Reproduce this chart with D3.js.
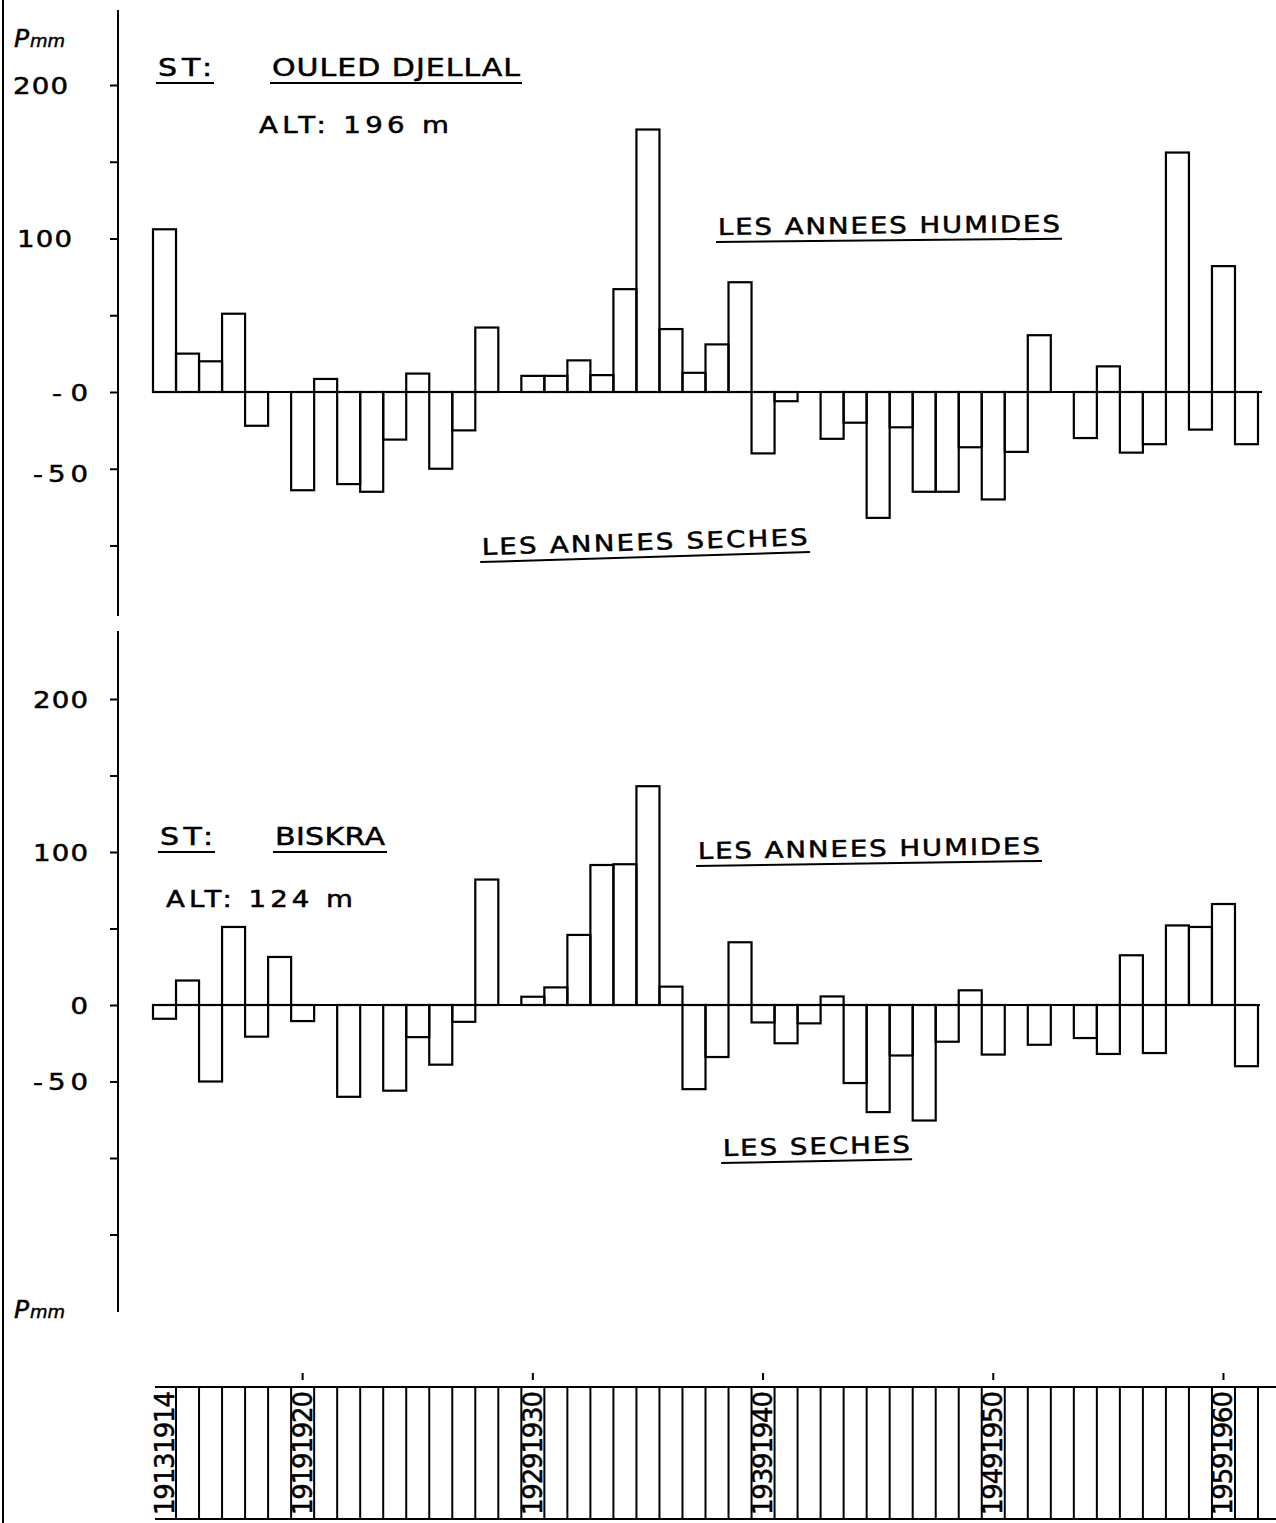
<!DOCTYPE html>
<html>
<head>
<meta charset="utf-8">
<script src="https://cdn.jsdelivr.net/npm/d3@7.9.0/dist/d3.min.js"></script>
<style>
  body { margin: 0; background: #fff; }
  svg { display: block; }
  text { font-family: "DejaVu Sans", sans-serif; fill: #000; stroke: #000; stroke-width: 0.5; }
</style>
</head>
<body>
<svg width="1276" height="1523"></svg>
<script>
// years on the x axis
const years = [1913, 1914, 1915, 1916, 1917, 1918, 1919, 1920, 1921, 1922,
  1923, 1924, 1925, 1926, 1927, 1928, 1929, 1930, 1931, 1932,
  1933, 1934, 1935, 1936, 1937, 1938, 1939, 1940, 1941, 1942,
  1943, 1944, 1945, 1946, 1947, 1948, 1949, 1950, 1951, 1952,
  1953, 1954, 1955, 1956, 1957, 1958, 1959, 1960];

// departure from the mean yearly rainfall (mm)
const djellal = [106, 25, 20, 51, -22, 0, -64, 8.5, -60, -65,
  -31, 12, -50, -25, 42, 0, 10.5, 10.5, 20.6, 11,
  67, 171, 41, 12.5, 31, 71.5, -40, -6, 0, -30.5,
  -20, -82, -23, -65, -65, -36, -70, -39, 37, 0,
  -30, 16.7, -39.5, -34, 156, -24.5, 82, -34];

const biskra = [-9, 16, -50, 51, -20.7, 31.4, -10.5, 0, -60, 0,
  -56, -21, -39, -11, 82, 0, 5.4, 11.5, 45.8, 91.5,
  92, 143, 12, -55, -34, 41, -11.4, -25, -12, 5.6,
  -51, -70, -33, -75.5, -24, 9.6, -32.4, 0, -26, 0,
  -21.6, -32, 32.5, -31.4, 52, 51, 66, -40];

// y axis ticks and labels
const topTicks = [200, 150, 100, 50, 0, -50, -100];
const topTickLabels = ['200', '', '100', '', '-0', '-50', ''];
const bottomTicks = [200, 150, 100, 50, 0, -50, -100, -150];
const bottomTickLabels = ['200', '', '100', '', '0', '-50', '', ''];

// year pairs written in the bottom strip
const stripYears = [1913, 1919, 1929, 1939, 1949, 1959];
const stripLabels = ['19131914', '19191920', '19291930', '19391940', '19491950', '19591960'];

const svg = d3.select('svg');
const WIDE = 1.2; // plotter lettering is wider than screen fonts

let x = d3.scaleBand().domain(years).range([153, 1258]).padding(0);

// frame line on the far left
svg.append('line')
  .attr('x1', 3).attr('x2', 3).attr('y1', 0).attr('y2', 1523)
  .attr('stroke', '#000').attr('stroke-width', 2);

function drawPanel(cfg) {
  let y = d3.scaleLinear().domain([0, 100]).range([cfg.zeroY, cfg.zeroY - cfg.px100]);
  let g = svg.append('g');

  // axis line + ticks
  g.append('line')
    .attr('x1', 118).attr('x2', 118)
    .attr('y1', cfg.axisTop).attr('y2', cfg.axisBottom)
    .attr('stroke', '#000').attr('stroke-width', 2);

  let axis = d3.axisLeft(y)
    .tickValues(cfg.ticks)
    .tickSizeInner(8).tickSizeOuter(0)
    .tickFormat((d, i) => cfg.labels[i]);
  let ax = g.append('g').attr('transform', 'translate(118,0)').call(axis);
  ax.select('.domain').remove();
  ax.selectAll('.tick line').attr('stroke', '#000').attr('stroke-width', 2);
  ax.selectAll('.tick text')
    .attr('font-family', '"DejaVu Sans", sans-serif')
    .attr('font-size', 23)
    .attr('text-anchor', 'end')
    .attr('fill', '#000')
    .attr('transform', `scale(${WIDE},1)`)
    .attr('x', (d) => (-30 - (cfg.shift[d] || 0)) / WIDE)
    .attr('dy', (d) => (cfg.drop[d] || 0) + 8)
    .each(function(d, i) {
      let s = cfg.labels[i];
      if (s.length > 1) {
        d3.select(this).attr('textLength', (s.length * 19 - 2) / WIDE).attr('lengthAdjust', 'spacing');
      }
    });

  // bars
  g.selectAll('rect.bar')
    .data(cfg.values.map((v, i) => ({ year: years[i], value: v })).filter((d) => d.value !== 0))
    .join('rect')
    .attr('class', 'bar')
    .attr('x', (d) => x(d.year))
    .attr('width', x.bandwidth())
    .attr('y', (d) => Math.min(y(0), y(d.value)))
    .attr('height', (d) => Math.abs(y(d.value) - y(0)))
    .attr('fill', 'none')
    .attr('stroke', '#000')
    .attr('stroke-width', 2.2);

  // zero line
  g.append('line')
    .attr('x1', x.range()[0]).attr('x2', x.range()[1] + cfg.zeroExtra)
    .attr('y1', y(0)).attr('y2', y(0))
    .attr('stroke', '#000').attr('stroke-width', 2.2);

  // annotations, underlined like the plotter did
  cfg.notes.forEach((n) => {
    let t = g.append('g').attr('transform', `translate(${n.x},${n.y}) rotate(${n.a || 0})`);
    t.append('text')
      .attr('transform', `scale(${WIDE},1)`)
      .attr('font-size', n.size || 23)
      .attr('textLength', n.len / WIDE)
      .attr('lengthAdjust', 'spacing')
      .text(n.t);
    if (n.u) {
      t.append('line')
        .attr('x1', -2).attr('x2', n.len + 2).attr('y1', 7).attr('y2', 7)
        .attr('stroke', '#000').attr('stroke-width', 2);
    }
  });

  // "Pmm" hand written unit
  let p = g.append('text')
    .attr('x', cfg.unit[0]).attr('y', cfg.unit[1])
    .attr('font-family', '"DejaVu Serif", serif')
    .attr('font-style', 'italic')
    .attr('stroke-width', 0.3);
  p.append('tspan').attr('font-size', 25).text('P');
  p.append('tspan').attr('font-size', 18).attr('dx', 1).text('mm');
}

drawPanel({
  values: djellal,
  zeroY: 392, px100: 153.5,
  axisTop: 10, axisBottom: 616,
  ticks: topTicks, labels: topTickLabels,
  shift: { 200: 20, 100: 16 }, drop: { '-50': 5 },
  zeroExtra: 4,
  unit: [14, 47],
  notes: [
    { t: 'ST:', x: 158, y: 76, len: 54, size: 25, u: true },
    { t: 'OULED DJELLAL', x: 272, y: 76, len: 248, size: 25, u: true },
    { t: 'ALT: 196 m', x: 259, y: 133, len: 190 },
    { t: 'LES ANNEES HUMIDES', x: 718, y: 235, len: 342, a: -0.55, u: true },
    { t: 'LES ANNEES SECHES', x: 482, y: 555, len: 326, a: -1.75, u: true }
  ]
});

drawPanel({
  values: biskra,
  zeroY: 1005, px100: 153,
  axisTop: 631, axisBottom: 1312,
  ticks: bottomTicks, labels: bottomTickLabels,
  shift: {}, drop: {},
  zeroExtra: 2,
  unit: [14, 1318],
  notes: [
    { t: 'ST:', x: 160, y: 845, len: 53, size: 25, u: true },
    { t: 'BISKRA', x: 275, y: 845, len: 110, size: 25, u: true },
    { t: 'ALT: 124 m', x: 166, y: 907, len: 187 },
    { t: 'LES ANNEES HUMIDES', x: 698, y: 859, len: 342, a: -0.85, u: true },
    { t: 'LES SECHES', x: 723, y: 1156, len: 187, a: -1.1, u: true }
  ]
});

// year strip at the bottom
let strip = svg.append('g');
strip.append('line')
  .attr('x1', 155).attr('x2', 1276).attr('y1', 1387).attr('y2', 1387)
  .attr('stroke', '#000').attr('stroke-width', 2);
strip.append('line')
  .attr('x1', 155).attr('x2', 1276).attr('y1', 1519).attr('y2', 1519)
  .attr('stroke', '#000').attr('stroke-width', 2);
strip.selectAll('line.cell')
  .data(years.slice(1))
  .join('line')
  .attr('class', 'cell')
  .attr('x1', (d) => x(d)).attr('x2', (d) => x(d))
  .attr('y1', 1387).attr('y2', 1519)
  .attr('stroke', '#000').attr('stroke-width', 2);
strip.append('line')
  .attr('x1', x.range()[1]).attr('x2', x.range()[1])
  .attr('y1', 1387).attr('y2', 1519)
  .attr('stroke', '#000').attr('stroke-width', 2);

stripYears.forEach((yr, i) => {
  let cx = x(yr) + x.bandwidth() / 2;
  strip.append('text')
    .attr('transform', `translate(${cx + 9},1515) rotate(-90)`)
    .attr('font-family', '"Liberation Sans", Arial, sans-serif')
    .attr('font-size', 26)
    .attr('textLength', 124)
    .attr('lengthAdjust', 'spacing')
    .text(stripLabels[i]);
  if (i > 0) {
    strip.append('line')
      .attr('x1', cx).attr('x2', cx).attr('y1', 1373).attr('y2', 1380)
      .attr('stroke', '#000').attr('stroke-width', 2);
  }
});
</script>
</body>
</html>
